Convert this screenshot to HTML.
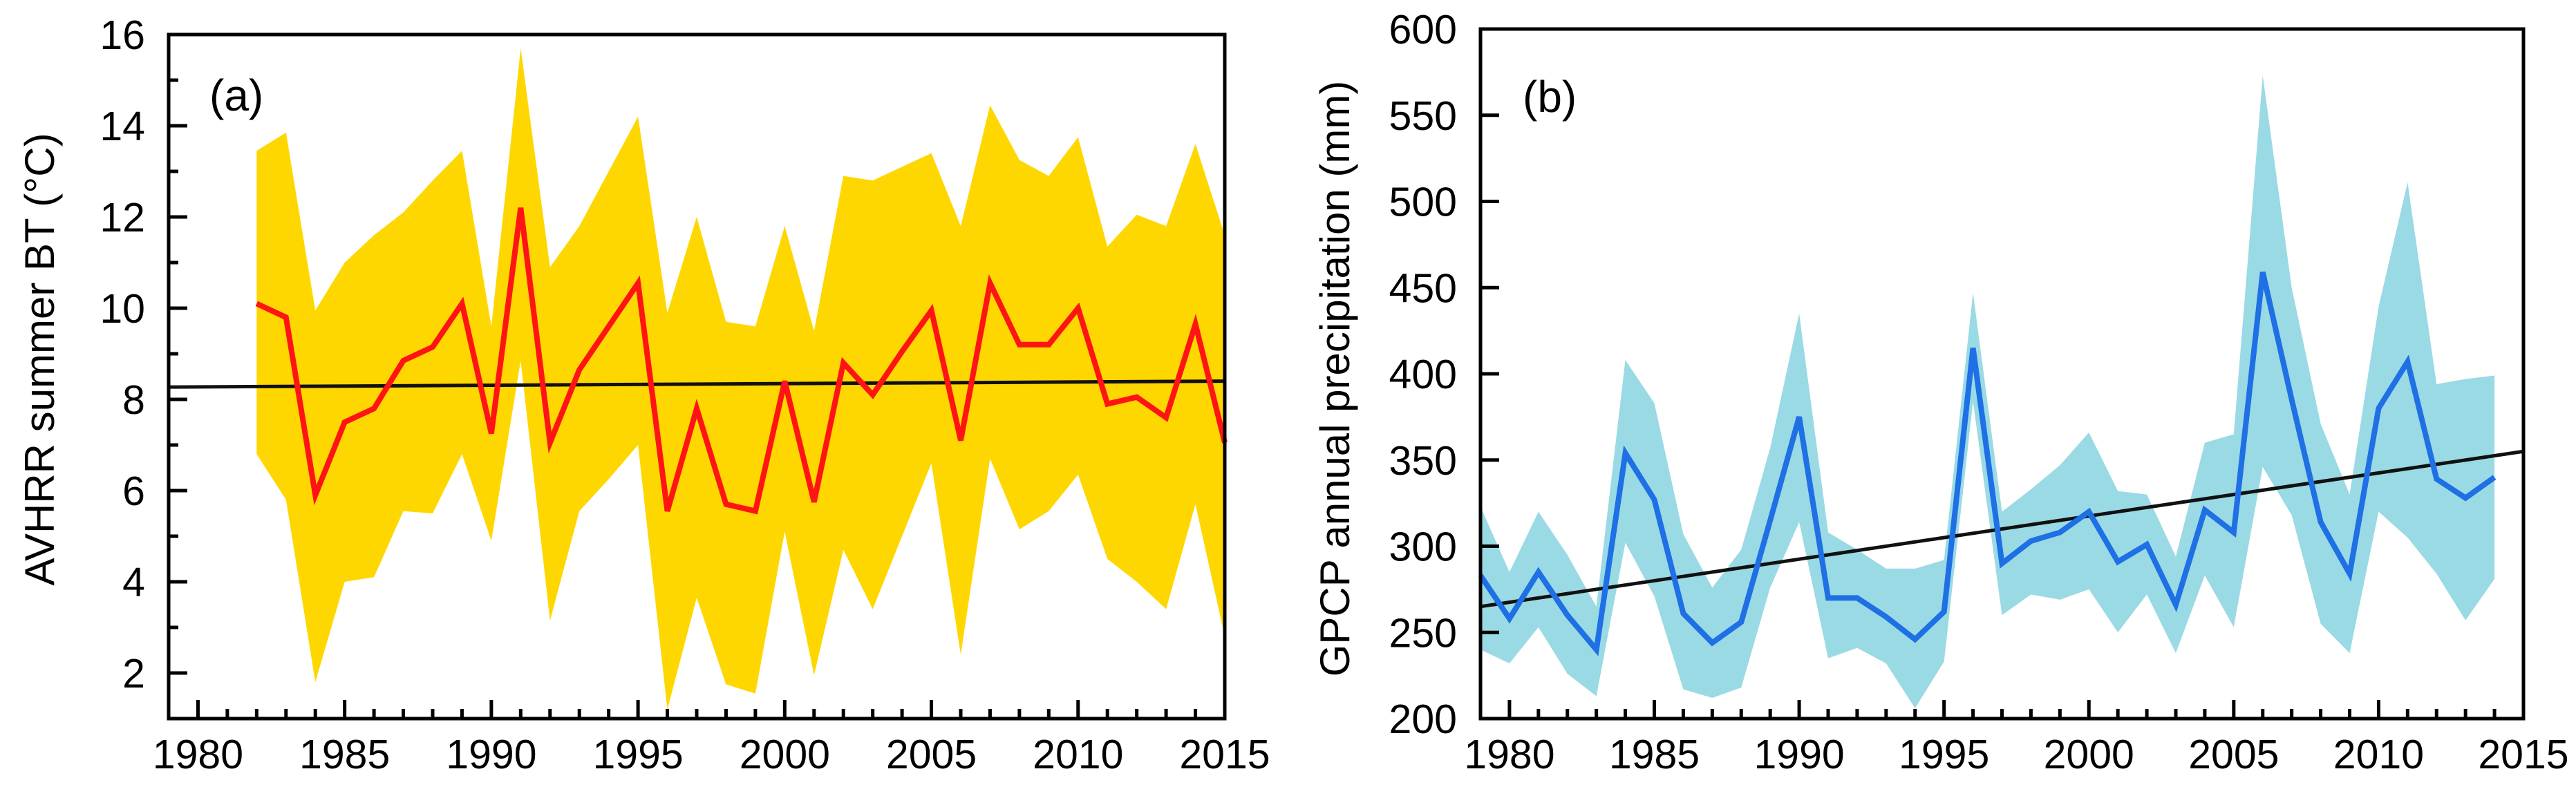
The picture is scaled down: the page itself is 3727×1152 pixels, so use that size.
<!DOCTYPE html>
<html><head><meta charset="utf-8"><style>
html,body{margin:0;padding:0;background:#fff}
svg{display:block}
text{font-family:"Liberation Sans",sans-serif;fill:#000}
</style></head><body>
<svg id="chart" width="3727" height="1152" viewBox="0 0 3727 1152" xmlns="http://www.w3.org/2000/svg">
<g id="pa"></g>
<g id="pb"></g>
</svg>
<script>
const yearsA = [1982,1983,1984,1985,1986,1987,1988,1989,1990,1991,1992,1993,1994,1995,1996,1997,1998,1999,2000,2001,2002,2003,2004,2005,2006,2007,2008,2009,2010,2011,2012,2013,2014,2015];
const meanA = [10.1,9.8,5.9,7.5,7.8,8.85,9.15,10.1,7.25,12.2,7.05,8.65,9.6,10.55,5.55,7.8,5.7,5.55,8.4,5.75,8.8,8.1,9.05,9.95,7.1,10.55,9.2,9.2,10.0,7.9,8.05,7.6,9.65,7.05];
const upperA = [13.45,13.85,9.95,11.0,11.6,12.1,12.8,13.45,9.6,15.7,10.9,11.8,13.0,14.2,9.9,12.0,9.7,9.6,11.8,9.5,12.9,12.8,13.1,13.4,11.8,14.45,13.25,12.9,13.75,11.35,12.05,11.8,13.6,11.6];
const lowerA = [6.8,5.8,1.8,4.0,4.1,5.55,5.5,6.8,4.9,8.85,3.15,5.55,6.25,7.0,1.2,3.65,1.75,1.55,5.1,1.95,4.7,3.4,5.0,6.6,2.4,6.7,5.15,5.55,6.35,4.5,4.0,3.4,5.7,2.8];
const trendA = [[1979,8.27],[2015,8.4]];
const yTicksA = [2,4,6,8,10,12,14,16];

const yearsB = [1979,1980,1981,1982,1983,1984,1985,1986,1987,1988,1989,1990,1991,1992,1993,1994,1995,1996,1997,1998,1999,2000,2001,2002,2003,2004,2005,2006,2007,2008,2009,2010,2011,2012,2013,2014];
const meanB = [283,258,285,260,240,354,327,261,244,256,315,375,270,270,259,246,262,415,290,303,308,320,291,301,266,321,308,459,385,314,284,380,407,339,328,340];
const upperB = [323,285,320,295,265,408,383,307,276,298,357,435,308,298,287,287,292,447,320,333,347,366,332,330,294,360,365,573,450,371,330,439,511,394,397,399];
const lowerB = [240,232,253,226,213,302,271,217,212,218,276,314,235,241,232,206,233,384,260,272,269,275,250,272,238,283,253,346,318,255,238,320,305,284,257,281];
const trendB = [[1979,265],[2015,355]];
const yTicksB = [200,250,300,350,400,450,500,550,600];
const xTickLabels = [1980,1985,1990,1995,2000,2005,2010,2015];

const NS = "http://www.w3.org/2000/svg";
function mk(parent, tag, attrs){const e=document.createElementNS(NS,tag);for(const k in attrs)e.setAttribute(k,attrs[k]);parent.appendChild(e);return e;}

function panel(g, cfg){
  const xs = v => cfg.L + (v-1979)/(2015-1979)*(cfg.R-cfg.L);
  const ys = v => cfg.B - (v-cfg.ymin)/(cfg.ymax-cfg.ymin)*(cfg.B-cfg.T);
  // band
  let pts = cfg.years.map((y,i)=>xs(y)+","+ys(cfg.upper[i]));
  pts = pts.concat(cfg.years.slice().reverse().map((y,j)=>{const i=cfg.years.length-1-j;return xs(y)+","+ys(cfg.lower[i]);}));
  const band = mk(g,"polygon",{points:pts.join(" "),fill:cfg.bandColor});
  
  
  const tr = mk(g,"line",{x1:xs(cfg.trend[0][0]),y1:ys(cfg.trend[0][1]),x2:xs(cfg.trend[1][0]),y2:ys(cfg.trend[1][1]),stroke:"#111","stroke-width":5});
  
  
  const ln = mk(g,"polyline",{points:cfg.years.map((y,i)=>xs(y)+","+ys(cfg.mean[i])).join(" "),fill:"none",stroke:cfg.lineColor,"stroke-width":8,"stroke-linejoin":"miter"});
  
  
  // frame
  const fr = mk(g,"rect",{x:cfg.L,y:cfg.T,width:cfg.R-cfg.L,height:cfg.B-cfg.T,fill:"none",stroke:"#000","stroke-width":5});
  
  
  // x ticks
  for(let y=1980;y<=2014;y++){
    const major = y%5===0;
    const t = mk(g,"line",{x1:xs(y),x2:xs(y),y1:cfg.B,y2:cfg.B-(major?27:14),stroke:"#000","stroke-width":5});
    
    
  }
  xTickLabels.forEach(v=>{
    const t = mk(g,"text",{x:xs(v),y:1112,"text-anchor":"middle","font-size":59});
    t.textContent = v;
    
    
  });
  // y ticks
  cfg.minorY.forEach(v=>{
    const t = mk(g,"line",{x1:cfg.L,x2:cfg.L+14,y1:ys(v),y2:ys(v),stroke:"#000","stroke-width":5});
    
    
  });
  cfg.yticks.forEach(v=>{
    const t = mk(g,"line",{x1:cfg.L,x2:cfg.L+27,y1:ys(v),y2:ys(v),stroke:"#000","stroke-width":5});
    
    
    const l = mk(g,"text",{x:cfg.L-34,y:ys(v)+21,"text-anchor":"end","font-size":59});
    l.textContent = v;
    
    
  });
  const tt = mk(g,"text",{x:0,y:0,"text-anchor":"middle","font-size":60,transform:`translate(${cfg.titleX},${cfg.titleY}) rotate(-90)`});
  tt.textContent = cfg.title;
  
  
  const pl = mk(g,"text",{x:cfg.labX,y:cfg.labY,"font-size":64});
  pl.textContent = cfg.label;
  
  
}

panel(document.getElementById("pa"),{L:244,R:1772,T:50,B:1040,ymin:1,ymax:16,years:yearsA,mean:meanA,upper:upperA,lower:lowerA,trend:trendA,
  bandColor:"#FFD700",lineColor:"#FF1414",yticks:yTicksA,minorY:[3,5,7,9,11,13,15],
  title:"AVHRR summer BT (°C)",titleX:78,titleY:520,label:"(a)",labX:303,labY:160});
panel(document.getElementById("pb"),{L:2142,R:3651,T:42,B:1040,ymin:200,ymax:600,years:yearsB,mean:meanB,upper:upperB,lower:lowerB,trend:trendB,
  bandColor:"#9ADAE5",lineColor:"#1F6FE5",yticks:yTicksB,minorY:[],
  title:"GPCP annual precipitation (mm)",titleX:1952,titleY:548,label:"(b)",labX:2203,labY:162});
</script>
</body></html>
